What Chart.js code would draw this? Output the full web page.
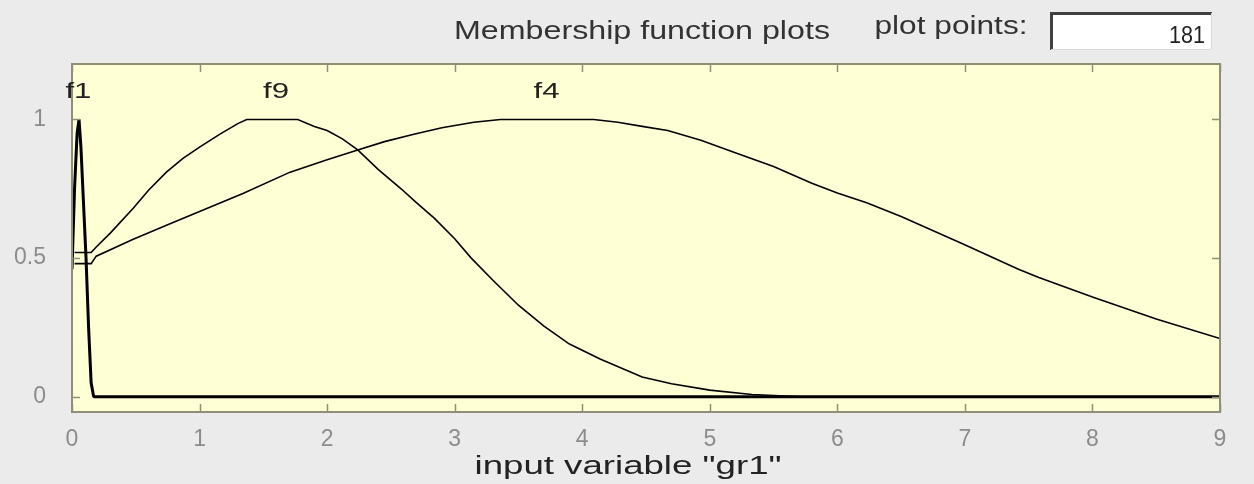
<!DOCTYPE html>
<html>
<head>
<meta charset="utf-8">
<script src="https://cdn.jsdelivr.net/npm/chart.js@4.4.1/dist/chart.umd.min.js"></script>
<style>
  body { margin: 0; background: #ebebeb; }
  #wrap { position: relative; width: 1254px; height: 484px; }
</style>
</head>
<body>
<div id="wrap"><canvas id="mfChart"></canvas></div>
<script>
// membership functions
const f1X = [0, 0.02, 0.04, 0.055, 0.07, 0.09, 0.11, 0.13, 0.15, 0.17, 9];
const f1Y = [0.46, 0.75, 0.95, 1.0, 0.9, 0.7, 0.5, 0.25, 0.05, 0, 0];

const f9X = [0.02, 0.15, 0.19, 0.3, 0.48, 0.6, 0.74, 0.87, 1.0, 1.16, 1.3, 1.37, 1.77, 1.9, 2.0, 2.12, 2.24, 2.4, 2.58, 2.7, 2.84, 3.0, 3.13, 3.3, 3.5, 3.7, 3.9, 4.14, 4.47, 4.7, 5.0, 5.33, 5.72];
const f9Y = [0.52, 0.52, 0.54, 0.59, 0.68, 0.745, 0.81, 0.86, 0.9, 0.947, 0.985, 1.0, 1.0, 0.975, 0.96, 0.93, 0.89, 0.82, 0.75, 0.7, 0.644, 0.57, 0.5, 0.42, 0.33, 0.255, 0.19, 0.136, 0.071, 0.047, 0.024, 0.008, 0];

const f4X = [0.02, 0.15, 0.19, 0.48, 0.75, 1.0, 1.34, 1.71, 2.0, 2.24, 2.45, 2.68, 2.9, 3.15, 3.36, 4.09, 4.28, 4.47, 4.67, 4.93, 5.2, 5.5, 5.8, 6.0, 6.23, 6.5, 6.99, 7.42, 7.58, 8.0, 8.5, 9.0];
const f4Y = [0.48, 0.48, 0.507, 0.568, 0.62, 0.668, 0.733, 0.81, 0.855, 0.89, 0.92, 0.947, 0.97, 0.99, 1.0, 1.0, 0.99, 0.975, 0.96, 0.925, 0.88, 0.83, 0.77, 0.735, 0.7, 0.65, 0.55, 0.46, 0.43, 0.36, 0.28, 0.21];

// name labels sit above each peak
const mfNames = ["f1", "f9", "f4"];
const mfLabelX = [0.05, 1.6, 3.72];
const mfLabelY = 1.1;

const xTicks = [0, 1, 2, 3, 4, 5, 6, 7, 8, 9];
const yTicks = [0, 0.5, 1];

const titleText = "Membership function plots";
const xTitle = 'input variable "gr1"';
const pointsLabel = "plot points:";
const pointsValue = "181";

const FONT = "'Liberation Sans', Arial";

function toPoints(xs, ys) {
    return xs.map((x, i) => ({ x: x, y: ys[i] }));
}

// draw text stretched to a given width (the screenshot is widened)
function fitText(ctx, text, cx, cy, width, size, color, align) {
    ctx.save();
    ctx.font = size + "px " + FONT;
    ctx.fillStyle = color;
    ctx.textBaseline = "middle";
    const w = ctx.measureText(text).width;
    ctx.translate(cx, cy);
    ctx.scale(width / w, 1);
    ctx.textAlign = align || "center";
    ctx.fillText(text, 0, 0);
    ctx.restore();
}

const decor = {
    id: "decor",
    beforeDraw(chart) {
        const { ctx, chartArea: a } = chart;
        ctx.save();
        ctx.fillStyle = "#ffffd6";
        ctx.fillRect(a.left, a.top, a.right - a.left, a.bottom - a.top);
        ctx.restore();
    },
    afterDraw(chart) {
        const { ctx, chartArea: a, scales } = chart;
        ctx.save();
        // frame
        ctx.strokeStyle = "#8f8f78";
        ctx.lineWidth = 2;
        ctx.strokeRect(a.left, a.top, a.right - a.left, a.bottom - a.top);
        // inside ticks
        ctx.lineWidth = 1.5;
        ctx.beginPath();
        xTicks.forEach(v => {
            const px = Math.round(scales.x.getPixelForValue(v)) + 0.5;
            ctx.moveTo(px, a.bottom); ctx.lineTo(px, a.bottom - 8);
            ctx.moveTo(px, a.top); ctx.lineTo(px, a.top + 8);
        });
        yTicks.forEach(v => {
            const py = Math.round(scales.y.getPixelForValue(v)) + 0.5;
            ctx.moveTo(a.left, py); ctx.lineTo(a.left + 8, py);
            ctx.moveTo(a.right, py); ctx.lineTo(a.right - 8, py);
        });
        ctx.stroke();

        // function names
        mfNames.forEach((n, i) => {
            const px = scales.x.getPixelForValue(mfLabelX[i]);
            const py = scales.y.getPixelForValue(mfLabelY);
            fitText(ctx, n, px, py, 26, 22, "#222");
        });

        // header
        fitText(ctx, titleText, 642, 32, 376, 25, "#333");
        fitText(ctx, pointsLabel, 951, 27, 153, 25, "#333");

        // points box, sunken look
        ctx.fillStyle = "#ffffff";
        ctx.fillRect(1050, 12, 162, 38);
        ctx.strokeStyle = "#404040";
        ctx.lineWidth = 3;
        ctx.beginPath();
        ctx.moveTo(1051.5, 50); ctx.lineTo(1051.5, 13.5); ctx.lineTo(1212, 13.5);
        ctx.stroke();
        ctx.strokeStyle = "#d8d8d8";
        ctx.lineWidth = 1;
        ctx.beginPath();
        ctx.moveTo(1211.5, 13); ctx.lineTo(1211.5, 49.5); ctx.lineTo(1051, 49.5);
        ctx.stroke();
        fitText(ctx, pointsValue, 1205, 36, 36, 24, "#222", "right");

        // x axis title
        fitText(ctx, xTitle, 628, 467, 307, 25, "#222");
        ctx.restore();
    }
};

const ctx = document.getElementById("mfChart").getContext("2d");
new Chart(ctx, {
    type: "line",
    data: {
        datasets: [
            { label: "f1", data: toPoints(f1X, f1Y), borderColor: "#000", borderWidth: 3, borderJoinStyle: "bevel" },
            { label: "f9", data: toPoints(f9X, f9Y), borderColor: "#000", borderWidth: 1.6 },
            { label: "f4", data: toPoints(f4X, f4Y), borderColor: "#000", borderWidth: 1.6 }
        ]
    },
    options: {
        responsive: true,
        maintainAspectRatio: false,
        animation: false,
        elements: { point: { radius: 0 }, line: { tension: 0 } },
        layout: { padding: { top: 64, right: 34, left: 0, bottom: 0 } },
        plugins: { legend: { display: false }, tooltip: { enabled: false } },
        scales: {
            x: {
                type: "linear",
                min: 0,
                max: 9,
                afterBuildTicks: s => { s.ticks = xTicks.map(v => ({ value: v })); },
                afterFit: s => { s.height = 72; },
                grid: { display: false },
                border: { display: false },
                ticks: { color: "#8c8c8c", font: { size: 23, family: FONT }, padding: 6 }
            },
            y: {
                min: -0.055,
                max: 1.2,
                afterBuildTicks: s => { s.ticks = yTicks.map(v => ({ value: v })); },
                afterFit: s => { s.width = 72; },
                grid: { display: false },
                border: { display: false },
                ticks: {
                    color: "#8c8c8c",
                    font: { size: 23, family: FONT },
                    padding: 18,
                    callback: v => String(v)
                }
            }
        }
    },
    plugins: [decor]
});
</script>
</body>
</html>
